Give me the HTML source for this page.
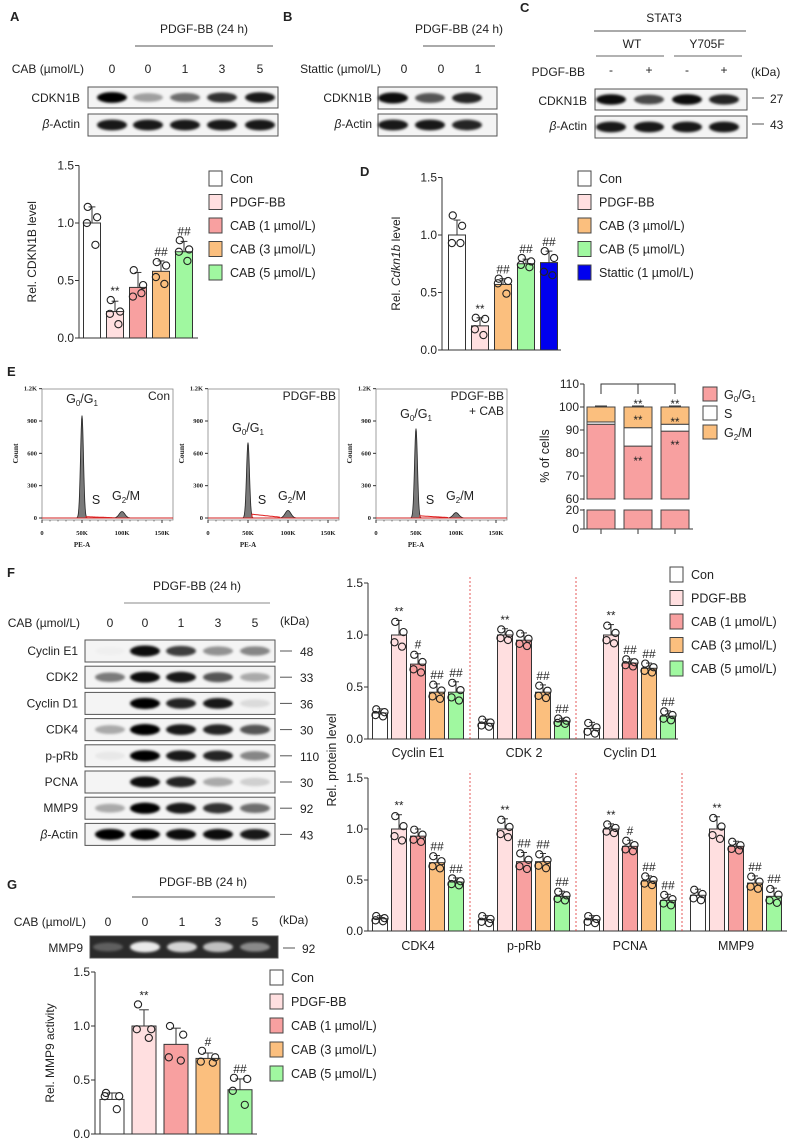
<!DOCTYPE html>
<html><head><meta charset="utf-8">
<style>
html,body{margin:0;padding:0;background:#fff;}
svg{display:block;font-family:"Liberation Sans",Arial,sans-serif;}
.t{font-size:11.5px;fill:#222;}
.ax{stroke:#333;stroke-width:1;fill:none;}
.fl{font-family:"Liberation Serif",serif;font-weight:bold;font-size:6px;fill:#222;}
</style></head>
<body>
<svg id="fig" width="790" height="1141" viewBox="0 0 790 1141" xmlns="http://www.w3.org/2000/svg">
<defs>
<filter id="blur" x="-30%" y="-80%" width="160%" height="260%"><feGaussianBlur stdDeviation="1.3"/></filter>
</defs>
</svg>
<script>
// ---------- DATA ----------
const groupsA = ["Con","PDGF-BB","CAB (1 µmol/L)","CAB (3 µmol/L)","CAB (5 µmol/L)"];
const valuesA = [1.0,0.23,0.44,0.58,0.75];
const sdA = [0.14,0.09,0.13,0.09,0.09];
const pointsA = [[1.14,1.05,1.0,0.81],[0.33,0.23,0.21,0.12],[0.59,0.46,0.36,0.39],[0.66,0.63,0.53,0.47],[0.85,0.77,0.75,0.67]];
const sigA = ["","**","","##","##"];

const groupsD = ["Con","PDGF-BB","CAB (3 µmol/L)","CAB (5 µmol/L)","Stattic (1 µmol/L)"];
const valuesD = [1.0,0.21,0.57,0.75,0.76];
const sdD = [0.13,0.07,0.05,0.04,0.1];
const pointsD = [[1.17,1.08,0.93,0.93],[0.28,0.27,0.18,0.13],[0.62,0.6,0.58,0.49],[0.8,0.77,0.74,0.72],[0.86,0.8,0.68,0.65]];
const sigD = ["","**","##","##","##"];

const flowG1 = [950,700,830];
const flowG2 = [60,70,50];
const flowS = [12,35,20];
const flowTitles = ["Con","PDGF-BB","PDGF-BB|+ CAB"];

const cellG1 = [92.5,83,89.5];
const cellS = [1,8,3];
const cellG2 = [6.5,9,7.5];

const protUpper = ["Cyclin E1","CDK 2","Cyclin D1"];
const protLower = ["CDK4","p-pRb","PCNA","MMP9"];
const valsUpper = [[0.25,1.0,0.72,0.45,0.45],[0.15,1.0,0.95,0.45,0.17],[0.10,1.0,0.73,0.68,0.22]];
const sdUpper = [[0.04,0.14,0.1,0.08,0.1],[0.04,0.06,0.07,0.07,0.03],[0.06,0.1,0.04,0.05,0.05]];
const sigUpper = [["","**","#","##","##"],["","**","","##","##"],["","**","##","##","##"]];
const valsLower = [[0.12,1.0,0.93,0.67,0.48],[0.11,1.0,0.68,0.68,0.34],[0.11,1.0,0.83,0.49,0.3],[0.35,1.0,0.83,0.47,0.34]];
const sdLower = [[0.03,0.14,0.07,0.07,0.04],[0.04,0.1,0.09,0.08,0.05],[0.04,0.05,0.06,0.05,0.06],[0.06,0.12,0.05,0.07,0.08]];
const sigLower = [["","**","","##","##"],["","**","##","##","##"],["","**","#","##","##"],["","**","","##","##"]];

const valuesG = [0.32,1.0,0.83,0.70,0.41];
const sdG = [0.06,0.15,0.15,0.05,0.1];
const pointsG = [[0.38,0.35,0.35,0.23],[1.2,0.97,0.97,0.89],[1.0,0.92,0.71,0.68],[0.77,0.71,0.67,0.66],[0.52,0.51,0.4,0.27]];
const sigG = ["","**","","#","##"];

const bandsA = [[1,0.35,0.55,0.8,0.9],[0.9,0.9,0.9,0.9,0.9]];
const bandsB = [[0.95,0.65,0.85],[0.9,0.9,0.85]];
const bandsC = [[0.95,0.7,0.95,0.85],[0.9,0.9,0.9,0.9]];
const blotNamesF = ["Cyclin E1","CDK2","Cyclin D1","CDK4","p-pRb","PCNA","MMP9","β-Actin"];
const blotKdaF = ["48","33","36","30","110","30","92","43"];
const bandsF = [[0.02,0.95,0.75,0.4,0.45],[0.5,0.95,0.9,0.65,0.3],[0,1,0.85,0.9,0.1],[0.3,1,0.9,0.85,0.65],[0.05,1,0.9,0.85,0.45],[0,0.95,0.85,0.3,0.15],[0.3,1,0.9,0.8,0.55],[1,1,0.95,0.95,0.9]];
const bandsG = [0.25,0.9,0.8,0.7,0.45];

const colors5 = ["#ffffff","#ffdfe0","#f8a0a0","#fbbf7e","#a0f8a0"];
const colorsD = ["#ffffff","#ffdfe0","#fbbf7e","#a0f8a0","#0000ee"];

// ---------- HELPERS ----------
const NS="http://www.w3.org/2000/svg";
const svg=document.getElementById('fig');
function mk(tag,attrs,parent){const e=document.createElementNS(NS,tag);for(const k in attrs)e.setAttribute(k,attrs[k]);(parent||svg).appendChild(e);return e;}
function txt(x,y,s,size,anchor,parent,extra){const e=mk('text',Object.assign({x:x,y:y,'font-size':size||11.5,'text-anchor':anchor||'start',fill:'#222'},extra||{}),parent);e.textContent=s;return e;}
function grp(name){const g=mk('g',{});return g;}

function yAxis(g,ax,y0,scale,ticks,fmt,ylab,ylabX){
  const top=y0-ticks[ticks.length-1]*scale;
  mk('line',{x1:ax,y1:y0,x2:ax,y2:top,class:'ax'},g);
  ticks.forEach(t=>{const y=y0-t*scale;mk('line',{x1:ax-4,y1:y,x2:ax,y2:y,class:'ax'},g);
    const l=txt(ax-5,y+4,fmt(t),12,'end',g);
    
    });
  if(ylab){const yl=mk('text',{x:0,y:0,'font-size':12,'text-anchor':'middle',fill:'#222',transform:`translate(${ylabX},${y0-0.75*scale}) rotate(-90)`},g);
    if(Array.isArray(ylab)){ylab.forEach(p=>{const ts=mk('tspan',p[1]?{'font-style':'italic'}:{},yl);ts.textContent=p[0];});}else yl.textContent=ylab;
    
    }
}
function bar(g,cx,w,y0,scale,v,sd,col,pts,sig,name){
  const h=v*scale;
  const r=mk('rect',{x:cx-w/2,y:y0-h,width:w,height:h,fill:col,stroke:'#333','stroke-width':1},g);
  
  
  const ye=y0-(v+sd)*scale;
  mk('line',{x1:cx,y1:y0-h,x2:cx,y2:ye,stroke:'#333'},g);
  mk('line',{x1:cx-w*0.2,y1:ye,x2:cx+w*0.2,y2:ye,stroke:'#333'},g);
  const off=[-0.25,0.3,-0.3,0.2];
  (pts||[]).forEach((p,i)=>{mk('circle',{cx:cx+off[i%4]*w,cy:y0-p*scale,r:3.6,fill:'none',stroke:'#222','stroke-width':1.1},g);});
  let top=Math.min(ye,...(pts||[v]).map(p=>y0-p*scale))-5;
  if(sig){const s=txt(cx,top,sig,sig==="**"?11.5:12,'middle',g);}
}
function legend(x,y0,pitch,labels,cols,fs){
  const g=grp('legend');
  labels.forEach((l,i)=>{const y=y0+i*pitch;
    const r=mk('rect',{x:x,y:y-7,width:13,height:15,fill:cols[i],stroke:'#444'},g);
    
    
    const t=txt(x+21,y+5,l,fs||12.5,'start',g);
    
    });
}
function blot(x,y,w,h,lanes,ints,name,dark){
  const g=grp(name);
  mk('rect',{x:x,y:y,width:w,height:h,fill:dark?'#2a2a2a':'#f4f4f4',stroke:'#555','stroke-width':1},g);
  lanes.forEach((lx,i)=>{const v=ints[i];if(v<=0)return;
    mk('ellipse',{cx:lx,cy:y+h/2,rx:15,ry:Math.max(2,h*0.18+1.6*v),fill:dark?'#fff':'#000','fill-opacity':Math.min(1,v),filter:'url(#blur)'},g);});
  return g;
}
function fmt1(t){return t.toFixed(1);}

// ---------- PANEL LETTERS ----------
[["A",10,21],["B",283,21],["C",520,12],["D",360,176],["E",7,376],["F",7,577],["G",7,889]].forEach(p=>{const t=txt(p[1],p[2],p[0],13,'start',null,{'font-weight':'bold'});});

// ---------- PANEL A blot ----------
(function(){const g=grp('panel-a-blot-header');
 txt(204,33,"PDGF-BB (24 h)",12,'middle',g);mk('line',{x1:135,y1:46,x2:273,y2:46,stroke:'#555'},g);
 txt(84,73,"CAB (µmol/L)",12,'end',g);
 [112,148,185,222,260].forEach((x,i)=>txt(x,73,["0","0","1","3","5"][i],12,'middle',g));
 txt(80,102,"CDKN1B",12,'end',g);
 const b=txt(80,128,"-Actin",12,'end',g);const bb=mk('tspan',{'font-style':'italic'},b);bb.textContent='β';b.insertBefore(bb,b.firstChild);
})();
blot(88,87,190,21,[112,148,185,222,260],bandsA[0],'blot-a-cdkn1b');
blot(88,114,190,22,[112,148,185,222,260],bandsA[1],'blot-a-actin');

// ---------- PANEL B blot ----------
(function(){const g=grp('panel-b-blot-header');
 txt(459,33,"PDGF-BB (24 h)",12,'middle',g);mk('line',{x1:423,y1:46,x2:495,y2:46,stroke:'#555'},g);
 txt(381,73,"Stattic (µmol/L)",12,'end',g);
 [404,441,478].forEach((x,i)=>txt(x,73,["0","0","1"][i],12,'middle',g));
 txt(372,102,"CDKN1B",12,'end',g);
 const b=txt(372,128,"-Actin",12,'end',g);const bb=mk('tspan',{'font-style':'italic'},b);bb.textContent='β';b.insertBefore(bb,b.firstChild);
})();
blot(378,87,119,22,[393,430,467],bandsB[0],'blot-b-cdkn1b');
blot(378,114,119,22,[393,430,467],bandsB[1],'blot-b-actin');

// ---------- PANEL C blot ----------
(function(){const g=grp('panel-c-blot-header');
 txt(664,22,"STAT3",12,'middle',g);mk('line',{x1:594,y1:31,x2:746,y2:31,stroke:'#555'},g);
 txt(632,48,"WT",12,'middle',g);txt(707,48,"Y705F",12,'middle',g);
 mk('line',{x1:596,y1:56,x2:664,y2:56,stroke:'#999','stroke-width':1.5},g);mk('line',{x1:674,y1:56,x2:742,y2:56,stroke:'#999','stroke-width':1.5},g);
 txt(585,76,"PDGF-BB",12,'end',g);
 [611,649,687,724].forEach((x,i)=>txt(x,74,["-","+","-","+"][i],12,'middle',g));
 txt(751,76,"(kDa)",12,'start',g);
 txt(587,105,"CDKN1B",12,'end',g);
 const b=txt(587,130,"-Actin",12,'end',g);const bb=mk('tspan',{'font-style':'italic'},b);bb.textContent='β';b.insertBefore(bb,b.firstChild);
 mk('line',{x1:752,y1:98,x2:764,y2:98,stroke:'#555'},g);txt(770,103,"27",12,'start',g);
 mk('line',{x1:752,y1:124,x2:764,y2:124,stroke:'#555'},g);txt(770,129,"43",12,'start',g);
})();
blot(595,89,152,21,[611,649,687,724],bandsC[0],'blot-c-cdkn1b');
blot(595,116,152,22,[611,649,687,724],bandsC[1],'blot-c-actin');

// ---------- PANEL A chart ----------
(function(){const g=grp('chart-a');const ax=79,y0=338,sc=115;
 yAxis(g,ax,y0,sc,[0,0.5,1.0,1.5],fmt1,"Rel. CDKN1B level",36);
 mk('line',{x1:ax,y1:y0,x2:198,y2:y0,class:'ax'},g);
 valuesA.forEach((v,i)=>bar(g,92+i*23,17,y0,sc,v,sdA[i],colors5[i],pointsA[i],sigA[i],'bar-a-'+i));
})();
legend(209,178,23.5,groupsA,colors5);

// ---------- PANEL D chart ----------
(function(){const g=grp('chart-d');const ax=442,y0=350,sc=115;
 yAxis(g,ax,y0,sc,[0,0.5,1.0,1.5],fmt1,[["Rel. ",0],["Cdkn1b",1],[" level",0]],400);
 mk('line',{x1:ax,y1:y0,x2:561,y2:y0,class:'ax'},g);
 valuesD.forEach((v,i)=>bar(g,457+i*23,17,y0,sc,v,sdD[i],colorsD[i],pointsD[i],sigD[i],'bar-d-'+i));
})();
legend(578,178,23.5,groupsD,colorsD);

// ---------- PANEL E flow ----------
flowG1.forEach((g1,k)=>{
 const g=grp('flow-histogram-'+k);
 const x0=[42,208,376][k],yb=518,yt=389,w=131,sx=40/50000,sy=(518-421)/900;
 mk('rect',{x:x0,y:yt,width:w,height:yb-yt+2,fill:'#fff',stroke:'#888','stroke-width':0.8},g);
 [0,50000,100000,150000].forEach((v,i)=>{const x=x0+v*sx;mk('line',{x1:x,y1:yb+2,x2:x,y2:yb+5,stroke:'#333'},g);
   txt(x,535,["0","50K","100K","150K"][i],6.5,'middle',g,{'font-family':'Liberation Serif,serif','font-weight':'bold'});});
 for(let v=0;v<=160000;v+=10000){const x=x0+v*sx;if(x<x0+w)mk('line',{x1:x,y1:yb+2,x2:x,y2:yb+3.5,stroke:'#333','stroke-width':0.6},g);}
 [0,300,600,900,1200].forEach((v,i)=>{const y=yb-v*sy;mk('line',{x1:x0-3,y1:y,x2:x0,y2:y,stroke:'#333'},g);
   txt(x0-5,y+2,["0","300","600","900","1.2K"][i],6.5,'end',g,{'font-family':'Liberation Serif,serif','font-weight':'bold'});});
 txt(x0+40,547,"PE-A",7,'middle',g,{'font-family':'Liberation Serif,serif','font-weight':'bold'});
 txt(0,0,"Count",7.5,'middle',g,{'font-family':'Liberation Serif,serif','font-weight':'bold',transform:`translate(${x0-24},${(yb+yt)/2}) rotate(-90)`});
 let d=`M${x0},${yb}`;
 for(let v=0;v<=150000;v+=500){const c=g1*Math.exp(-Math.pow((v-50000)/2600,2))+flowG2[k]*Math.exp(-Math.pow((v-100000)/5000,2));d+=` L${(x0+v*sx).toFixed(1)},${(yb-c*sy).toFixed(1)}`;}
 d+=` L${x0+150000*sx},${yb} Z`;
 const p=mk('path',{d:d,fill:'#7a7a7a',stroke:'#222','stroke-width':0.8},g);
 
 
 let ds=`M${x0+55000*sx},${yb}`;
 for(let v=55000;v<=90000;v+=1000){const c=flowS[k]*(1-(v-55000)/45000);ds+=` L${(x0+v*sx).toFixed(1)},${(yb-c*sy).toFixed(1)}`;}
 mk('path',{d:ds,fill:'none',stroke:'#e02020','stroke-width':1},g);
 mk('line',{x1:x0,y1:yb,x2:x0+w,y2:yb,stroke:'#d02020','stroke-width':1},g);
 const gx=x0+40, gy=[403,432,418][k];
 const gl=txt(gx,gy,"G",12.5,'middle',g);const s1=mk('tspan',{'font-size':8,dy:3},gl);s1.textContent='0';const s2=mk('tspan',{dy:-3},gl);s2.textContent='/G';const s3=mk('tspan',{'font-size':8,dy:3},gl);s3.textContent='1';
 txt(x0+54,504,"S",12.5,'middle',g);
 const gm=txt(x0+70,500,"G",12.5,'start',g);const m1=mk('tspan',{'font-size':8,dy:3},gm);m1.textContent='2';const m2=mk('tspan',{dy:-3},gm);m2.textContent='/M';
 flowTitles[k].split('|').forEach((s,j)=>txt(x0+w-3,400+j*15,s,12,'end',g));
});

// ---------- PANEL E stacked ----------
(function(){const g=grp('chart-e-cell-cycle');const ax=584;
 function yv(p){return p>=60?499-(p-60)*2.3:529-p*0.95;}
 mk('line',{x1:ax,y1:529,x2:ax,y2:509,class:'ax'},g);mk('line',{x1:ax,y1:500,x2:ax,y2:384,class:'ax'},g);
 [0,20].forEach(t=>{mk('line',{x1:ax-4,y1:yv(t),x2:ax,y2:yv(t),class:'ax'},g);txt(ax-5,yv(t)+4,String(t),12,'end',g);});
 [60,70,80,90,100,110].forEach(t=>{mk('line',{x1:ax-4,y1:yv(t),x2:ax,y2:yv(t),class:'ax'},g);txt(ax-5,yv(t)+4,String(t),12,'end',g);});
 mk('line',{x1:ax,y1:529,x2:693,y2:529,class:'ax'},g);
 const yl=txt(0,0,"% of cells",12.5,'middle',g,{transform:'translate(549,456) rotate(-90)'});
 
 
 const cs=[601,638,675];
 cellG1.forEach((v,i)=>{const cx=cs[i],w=28;
  mk('line',{x1:cx,y1:529,x2:cx,y2:534,class:'ax'},g);
  const segs=[[0,v,'#f8a0a0','bar-g0g1-'+i],[v,v+cellS[i],'#ffffff','bar-s-'+i],[v+cellS[i],v+cellS[i]+cellG2[i],'#fbbf7e','bar-g2m-'+i]];
  segs.forEach(s=>{if(s[0]<60&&s[1]>60){
     const r1=mk('rect',{x:cx-w/2,y:yv(20),width:w,height:yv(0)-yv(20),fill:s[2],stroke:'#444'},g);
     
     
     const r2=mk('rect',{x:cx-w/2,y:yv(s[1]),width:w,height:yv(60)-yv(s[1]),fill:s[2],stroke:'#444'},g);
     
     
   } else {const r=mk('rect',{x:cx-w/2,y:yv(s[1]),width:w,height:yv(s[0])-yv(s[1]),fill:s[2],stroke:'#444'},g);
     
     }
   mk('line',{x1:cx-6,y1:yv(s[1])-1,x2:cx+6,y2:yv(s[1])-1,stroke:'#333'},g);});
 });
 mk('path',{d:`M${cs[0]},394 V384 H${cs[2]} V394 M${cs[1]},384 V394`,fill:'none',stroke:'#333'},g);
 [[1,400],[2,400],[1,416],[2,418],[1,457],[2,441]].forEach(p=>txt(cs[p[0]],p[1]+8,"**",11.5,'middle',g));
 const lg=grp('legend-e');
 const labs=[["G","0","/G","1"],["S"],["G","2","/M"]];const cl=['#f8a0a0','#fff','#fbbf7e'];
 labs.forEach((l,i)=>{const y=394+i*19;mk('rect',{x:703,y:y-7,width:14,height:14,fill:cl[i],stroke:'#444'},lg);
  const t=txt(724,y+5,l[0],12.5,'start',lg);
  
  
  for(let j=1;j<l.length;j++){const ts=mk('tspan',j%2?{'font-size':8,dy:3}:{dy:-3},t);ts.textContent=l[j];}});
})();

// ---------- PANEL F blots ----------
(function(){const g=grp('panel-f-blot-header');
 txt(197,590,"PDGF-BB (24 h)",12,'middle',g);mk('line',{x1:124,y1:603,x2:270,y2:603,stroke:'#888'},g);
 txt(80,627,"CAB (µmol/L)",12,'end',g);
 [110,145,181,218,255].forEach((x,i)=>txt(x,627,["0","0","1","3","5"][i],12,'middle',g));
 txt(280,625,"(kDa)",12,'start',g);
})();
blotNamesF.forEach((n,i)=>{const y=640+i*26.2;
 const gb=blot(85,y,190,22,[110,145,181,218,255],bandsF[i],'blot-f-'+i);
 if(n==="β-Actin"){const b=txt(78,y+15,"-Actin",12,'end',gb);const bb=mk('tspan',{'font-style':'italic'},b);bb.textContent='β';b.insertBefore(bb,b.firstChild);}
 else txt(78,y+15,n,12,'end',gb);
 mk('line',{x1:280,y1:y+11,x2:292,y2:y+11,stroke:'#555'},gb);txt(300,y+16,blotKdaF[i],12,'start',gb);
});

// ---------- PANEL F charts ----------
function fChart(name,y0,sc,names,vals,sds,sigs,axEnd,labY){
 const g=grp(name);const ax=368;
 yAxis(g,ax,y0,sc,[0,0.5,1.0,1.5],fmt1,null,0);
 mk('line',{x1:ax,y1:y0,x2:axEnd,y2:y0,class:'ax'},g);
 names.forEach((n,gi)=>{
  if(gi>0)mk('line',{x1:364+gi*106,y1:y0,x2:364+gi*106,y2:y0-1.57*sc,stroke:'#e03030','stroke-width':0.8,'stroke-dasharray':'2,2'},g);
  vals[gi].forEach((v,i)=>{const v4=[v+sds[gi][i]*0.9,v+sds[gi][i]*0.2,v-sds[gi][i]*0.5,v-sds[gi][i]*0.8];
    bar(g,380+gi*106+i*19,15,y0,sc,v,sds[gi][i],colors5[i],v4,sigs[gi][i],'bar-'+n.replace(/\s/g,'').toLowerCase()+'-'+i);});
  const l=txt(418+gi*106,labY,n,12.5,'middle',g);
  
  
 });
}
fChart('chart-f-upper',739,104,protUpper,valsUpper,sdUpper,sigUpper,678,757);
fChart('chart-f-lower',931,102,protLower,valsLower,sdLower,sigLower,787,950);
(function(){const yl=txt(0,0,"Rel. protein level",12.5,'middle',null,{transform:'translate(336,760) rotate(-90)'});
 
 })();
legend(670,574,23.5,groupsA,colors5);

// ---------- PANEL G ----------
(function(){const g=grp('panel-g-blot-header');
 txt(203,886,"PDGF-BB (24 h)",12,'middle',g);mk('line',{x1:132,y1:897,x2:275,y2:897,stroke:'#555'},g);
 txt(86,926,"CAB (µmol/L)",12,'end',g);
 [108,145,182,218,255].forEach((x,i)=>txt(x,926,["0","0","1","3","5"][i],12,'middle',g));
 txt(279,924,"(kDa)",12,'start',g);
 txt(83,952,"MMP9",12,'end',g);
 mk('line',{x1:283,y1:948,x2:295,y2:948,stroke:'#555'},g);txt(302,953,"92",12,'start',g);
})();
blot(90,936,188,22,[108,145,182,218,255],bandsG,'blot-g-zymography',true);
(function(){const g=grp('chart-g');const ax=95,y0=1134,sc=108;
 yAxis(g,ax,y0,sc,[0,0.5,1.0,1.5],fmt1,"Rel. MMP9 activity",54);
 mk('line',{x1:ax,y1:y0,x2:257,y2:y0,class:'ax'},g);
 valuesG.forEach((v,i)=>bar(g,112+i*32,24,y0,sc,v,sdG[i],colors5[i],pointsG[i],sigG[i],'bar-g-'+i));
})();
legend(270,977,24,groupsA,colors5);
</script>
</body></html>
